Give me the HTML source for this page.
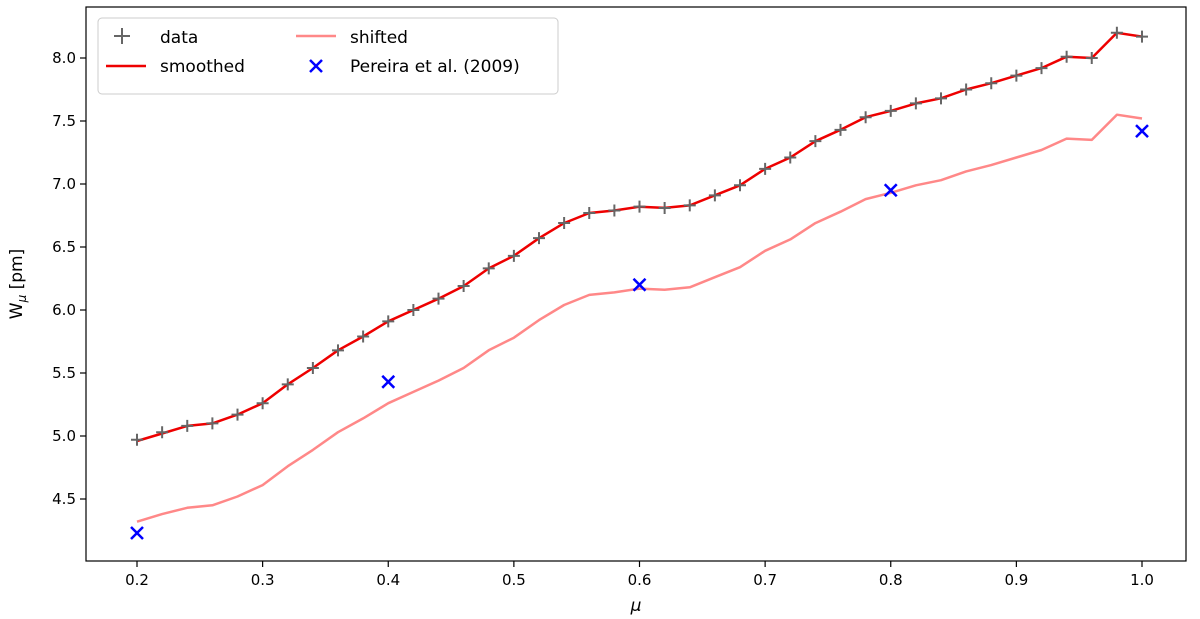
<!DOCTYPE html>
<html><head><meta charset="utf-8">
<style>
body{margin:0;background:#fff;}
svg{display:block;font-family:"DejaVu Sans","Liberation Sans",sans-serif;}
</style></head>
<body>
<svg id="chart" width="1200" height="619" viewBox="0 0 1200 619" xmlns="http://www.w3.org/2000/svg">
<rect x="0" y="0" width="1200" height="619" fill="#fff"/>
<g id="marks"></g>
<rect x="86" y="7" width="1100" height="554" fill="none" stroke="#000" stroke-width="1.2"/>
<g id="axes"></g>
<text x="636" y="611" font-size="17" text-anchor="middle" font-style="italic">μ</text>
<text transform="translate(22,284) rotate(-90)" font-size="17" text-anchor="middle">W<tspan font-size="12" dy="4" font-style="italic">μ</tspan><tspan dy="-4"> [pm]</tspan></text>
<g>
<rect x="98" y="18" width="460" height="76" rx="4" fill="#fff" fill-opacity="0.85" stroke="#ccc"/>
<g>
<path d="M122 28v16M114 36h16" stroke="#666" stroke-width="2"/>
<text x="160" y="43" font-size="17">data</text></g>
<g>
<line x1="106" y1="66" x2="146" y2="66" stroke="#e00" stroke-width="2.5"/>
<text x="160" y="72" font-size="17">smoothed</text></g>
<g>
<line x1="296" y1="36" x2="336" y2="36" stroke="#f88" stroke-width="2.5"/>
<text x="350" y="43" font-size="17">shifted</text></g>
<g>
<path d="M310 60l12 12M322 60l-12 12" stroke="#00f" stroke-width="2.5"/>
<text x="350" y="72" font-size="17">Pereira et al. (2009)</text></g>
</g>
</svg>
<script>
const muValues=[0.20,0.22,0.24,0.26,0.28,0.30,0.32,0.34,0.36,0.38,0.40,0.42,0.44,0.46,0.48,0.50,0.52,0.54,0.56,0.58,0.60,0.62,0.64,0.66,0.68,0.70,0.72,0.74,0.76,0.78,0.80,0.82,0.84,0.86,0.88,0.90,0.92,0.94,0.96,0.98,1.00];
const dataValues=[4.97,5.03,5.08,5.10,5.17,5.26,5.41,5.54,5.68,5.79,5.91,6.00,6.09,6.19,6.33,6.43,6.57,6.69,6.77,6.79,6.82,6.81,6.83,6.91,6.99,7.12,7.21,7.34,7.43,7.53,7.58,7.64,7.68,7.75,7.80,7.86,7.92,8.01,8.00,8.20,8.17];
const smoothedValues=[4.96,5.02,5.08,5.10,5.17,5.26,5.41,5.54,5.68,5.79,5.91,6.00,6.09,6.19,6.33,6.43,6.57,6.69,6.77,6.79,6.82,6.81,6.83,6.91,6.99,7.12,7.21,7.34,7.43,7.53,7.58,7.64,7.68,7.75,7.80,7.86,7.92,8.01,8.00,8.20,8.17];
const shiftedValues=[4.32,4.38,4.43,4.45,4.52,4.61,4.76,4.89,5.03,5.14,5.26,5.35,5.44,5.54,5.68,5.78,5.92,6.04,6.12,6.14,6.17,6.16,6.18,6.26,6.34,6.47,6.56,6.69,6.78,6.88,6.93,6.99,7.03,7.10,7.15,7.21,7.27,7.36,7.35,7.55,7.52];
const pereiraMu=[0.2,0.4,0.6,0.8,1.0];
const pereiraValues=[4.23,5.43,6.20,6.95,7.42];
const xTicks=[0.2,0.3,0.4,0.5,0.6,0.7,0.8,0.9,1.0];
const xTickLabels=["0.2","0.3","0.4","0.5","0.6","0.7","0.8","0.9","1.0"];
const yTicks=[4.5,5.0,5.5,6.0,6.5,7.0,7.5,8.0];
const yTickLabels=["4.5","5.0","5.5","6.0","6.5","7.0","7.5","8.0"];

const NS="http://www.w3.org/2000/svg";
function xs(v){return 137+(v-0.2)*1256.25;}
function ys(v){return 499-(v-4.5)*126;}
function mk(tag,attrs,parent){const e=document.createElementNS(NS,tag);for(const k in attrs)e.setAttribute(k,attrs[k]);parent.appendChild(e);return e;}
const marks=document.getElementById('marks');
const axes=document.getElementById('axes');
function lineFrom(vals,color,w,name){
  const d=vals.map((v,i)=>(i?'L':'M')+xs(muValues[i]).toFixed(1)+' '+ys(v).toFixed(1)).join('');
  const p=mk('path',{d:d,fill:'none',stroke:color,'stroke-width':w,'stroke-linejoin':'round'},marks);
  
  
}
lineFrom(shiftedValues,'#f88',2.5,'shifted-line');
lineFrom(smoothedValues,'#e00',2.5,'smoothed-line');
dataValues.forEach((v,i)=>{
  const x=xs(muValues[i]),y=ys(v);
  const p=mk('path',{d:`M${x} ${y-6}v12M${x-6} ${y}h12`,stroke:'#666','stroke-width':2},marks);
  
  
});
pereiraValues.forEach((v,i)=>{
  const x=xs(pereiraMu[i]),y=ys(v);
  const p=mk('path',{d:`M${x-6} ${y-6}l12 12M${x+6} ${y-6}l-12 12`,stroke:'#00f','stroke-width':2.5},marks);
  
  
});
xTicks.forEach((t,i)=>{
  const x=xs(t);
  const l=mk('line',{x1:x,x2:x,y1:561,y2:567,stroke:'#000','stroke-width':1.2},axes);
  
  
  const tx=mk('text',{x:x,y:585,'font-size':15,'text-anchor':'middle'},axes);
  tx.textContent=xTickLabels[i];
  
  
});
yTicks.forEach((t,i)=>{
  const y=ys(t);
  const l=mk('line',{x1:80,x2:86,y1:y,y2:y,stroke:'#000','stroke-width':1.2},axes);
  
  
  const tx=mk('text',{x:76,y:y+5,'font-size':15,'text-anchor':'end'},axes);
  tx.textContent=yTickLabels[i];
  
  
});
</script>
</body></html>
